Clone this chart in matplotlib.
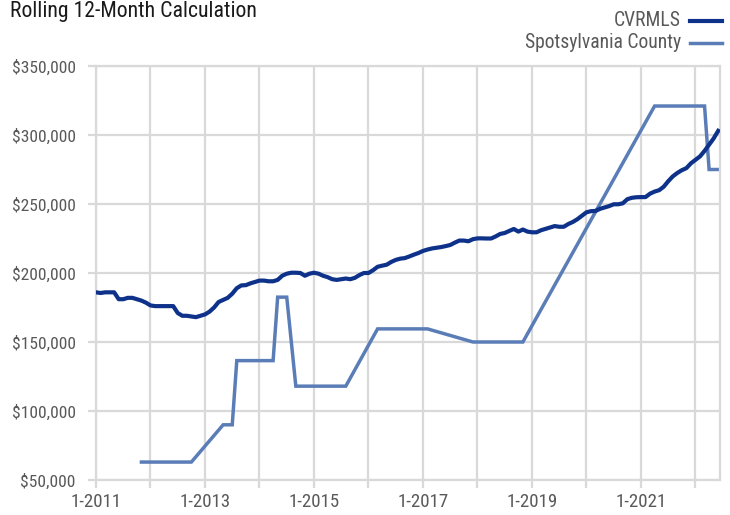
import matplotlib
matplotlib.use("Agg")
import matplotlib.pyplot as plt
from matplotlib import font_manager
from matplotlib.lines import Line2D
from matplotlib.ticker import FuncFormatter, MultipleLocator
import numpy as np

names = {f.name for f in font_manager.fontManager.ttflist}
pref = ["Roboto Condensed", "Liberation Sans Narrow", "Roboto", "DejaVu Sans"]
FONT = next(p for p in pref if p in names)
plt.rcParams['font.family'] = [FONT, 'DejaVu Sans']

# ---- data (values in $ thousands), monthly Jan-2011 .. Jun-2022 ----
start_year = 2011
cvrmls = [
    186, 185.5, 186, 186, 186, 181, 181, 182, 182, 181, 180, 178.5,        # 2011
    176.5, 176, 176, 176, 176, 176, 171, 169, 169, 168.5, 168, 169,        # 2012
    170, 172, 175, 179, 180.5, 182, 185, 189, 191, 191.2, 192.5, 193.5,    # 2013
    194.5, 194.5, 194, 194, 195, 198, 199.5, 200.2, 200.2, 200, 198, 199.5,  # 2014
    200.2, 199.5, 198, 197, 195.5, 195, 195.5, 196, 195.5, 196.5, 198.5, 200,  # 2015
    200, 202, 204.5, 205.3, 206, 208, 209.5, 210.4, 210.8, 212, 213.3, 214.5,  # 2016
    216, 217, 217.8, 218.3, 218.8, 219.5, 220.3, 222, 223.5, 223.5, 223, 224.5,  # 2017
    225.1, 225.1, 225, 225, 226.5, 228.3, 229, 230.5, 231.9, 230, 231.5, 230,  # 2018
    229.5, 229.5, 231, 232, 233, 234, 233.5, 233.5, 235.5, 237, 239, 241.5,  # 2019
    244, 244.8, 245, 246.5, 247.5, 248.5, 249.8, 249.8, 250.5, 253.5, 254.5, 254.9,  # 2020
    255, 255, 257.5, 259, 260, 262.5, 266.5, 270, 272.5, 274.5, 276, 279.5,  # 2021
    282, 284.5, 288.5, 293, 297.5, 303,                                     # 2022
]
N = None
spotsylvania = (
    [N] * 10 + [63] * 12 + [N] * 6 + [90] * 3 + [136.5] * 9 + [182.5] * 3 + [N]
    + [118] * 12 + [N] * 6 + [159.5] * 12 + [N] * 9 + [150] * 12 + [N] * 28
    + [321] * 12 + [275] * 3
)
series_names = ["CVRMLS", "Spotsylvania County"]
colors = ["#0E328A", "#5B7DB7"]
title = "Rolling 12-Month Calculation"

n = len(cvrmls)
x = np.arange(n)
tick_pos = np.arange(0, n, 12)
tick_labels = [f"1-{start_year + k}" if k % 2 == 0 else "" for k in range(len(tick_pos))]

fig = plt.figure(figsize=(7.3, 5.15), dpi=100)
ax = fig.add_axes([96/730, 1 - 480/515, (720-96)/730, (480-66)/515])

ax.plot(x, np.array(cvrmls) * 1000, color=colors[0], lw=3.0, solid_joinstyle='round', zorder=3)
sx = [i for i, v in enumerate(spotsylvania) if v is not None]
sy = [v * 1000 for v in spotsylvania if v is not None]
ax.plot(sx, sy, color=colors[1], lw=2.5, solid_joinstyle='miter', zorder=2)

ax.set_xlim(0, n - 1 + 0.4)
ax.set_ylim(50000, 350000)
ax.yaxis.set_major_locator(MultipleLocator(50000))
ax.yaxis.set_major_formatter(FuncFormatter(lambda v, p: f"${v:,.0f}"))
ax.set_xticks(tick_pos)
ax.set_xticklabels(tick_labels)

grid_c = "#D9D9D9"
ax.grid(True, color=grid_c, lw=1.6)
ax.set_axisbelow(True)
for s in ax.spines.values():
    s.set_color(grid_c)
    s.set_linewidth(1.6)
ax.tick_params(axis='both', color=grid_c, width=1.6, length=5.5, labelcolor="#595959")
ax.tick_params(axis='y', pad=9, labelsize=12.6)
ax.tick_params(axis='x', pad=4, labelsize=13.6)

fig.text(10/730, 1 - 1/515, title, ha='left', va='top', fontsize=15.7, color="#1a1a1a")

for k, (nm, c, lw) in enumerate(zip(series_names, colors, [3.0, 2.5])):
    yy = 1 - (20.5 + 22 * k) / 515
    fig.text(681/730, yy, nm, ha='right', va='center', fontsize=14.1, color="#595959")
    fig.add_artist(Line2D([690/730, 722/730], [yy, yy], color=c, lw=lw,
                          transform=fig.transFigure))

fig.savefig("out.png", dpi=100)
